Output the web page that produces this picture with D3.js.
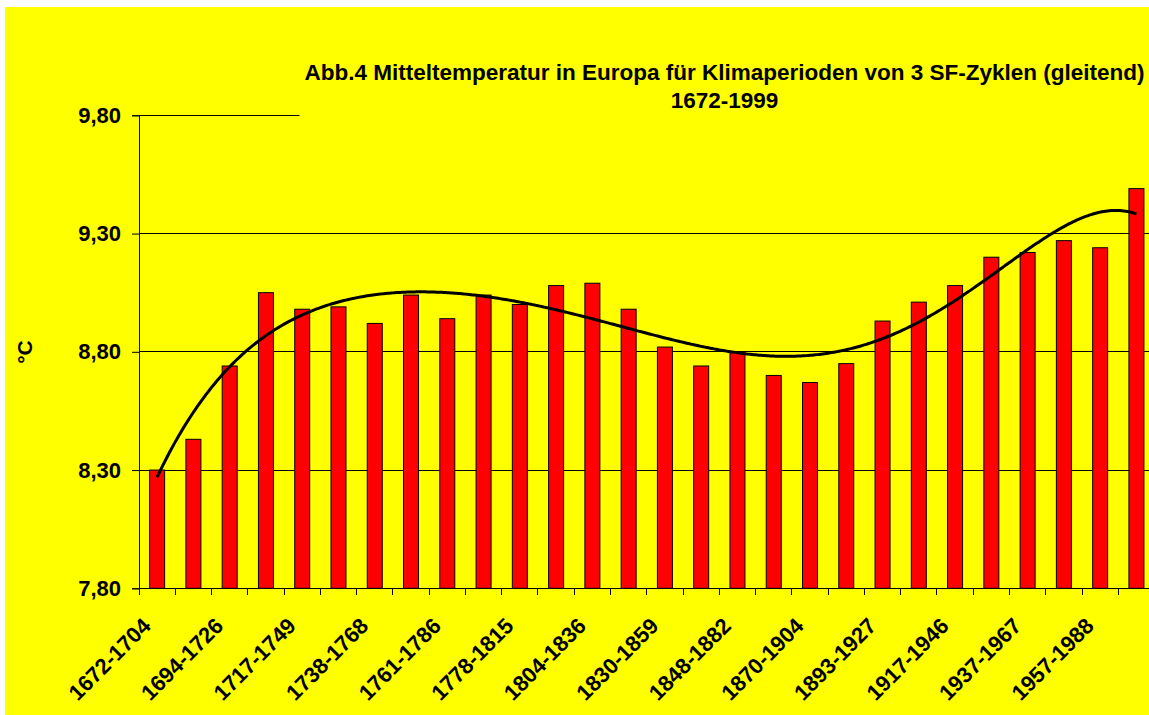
<!DOCTYPE html>
<html><head><meta charset="utf-8">
<script src="https://cdn.jsdelivr.net/npm/d3@7"></script>
<style>html,body{margin:0;padding:0;background:#fff;}svg{display:block;}</style>
</head><body>
<svg id="chart" width="1149" height="715"></svg>
<script>
const categories = ["1672-1704","1683-1715","1694-1726","1705-1738","1717-1749","1728-1760","1738-1768","1750-1777","1761-1786","1769-1798","1778-1815","1790-1826","1804-1836","1816-1848","1830-1859","1838-1870","1848-1882","1860-1893","1870-1904","1882-1916","1893-1927","1905-1937","1917-1946","1927-1957","1937-1967","1947-1978","1957-1988","1967-1999"];
const temps = [8.30,8.43,8.74,9.05,8.98,8.99,8.92,9.04,8.94,9.04,9.00,9.08,9.09,8.98,8.82,8.74,8.80,8.70,8.67,8.75,8.93,9.01,9.08,9.20,9.22,9.27,9.24,9.49];
const yTicks = [7.80,8.30,8.80,9.30,9.80];
const titleLines = ["Abb.4 Mitteltemperatur in Europa für Klimaperioden von 3 SF-Zyklen (gleitend)","1672-1999"];
const yLabel = "°C";
const trendDegree = 6;

(function(){
const svg = d3.select("#chart");
const W = 1149, H = 715;
const pLeft = 139, step = 36.27, pRight = pLeft + step*categories.length;
const pTop = 115.3, pBottom = 588.3;
const fmt = v => d3.format(".2f")(v).replace(".", ",");

svg.append("rect").attr("x",5).attr("y",7).attr("width",W).attr("height",H).attr("fill","#ffff00");

const x = d3.scaleBand().domain(categories).range([pLeft,pRight]).paddingInner(1-15/step).paddingOuter((1-15/step)/2);
const y = d3.scaleLinear().domain([7.8,9.8]).range([pBottom,pTop]);

const grid = svg.append("g");
grid.selectAll("line").data(yTicks.filter(v=>v>7.8)).join("line")
  .attr("x1",pLeft).attr("x2",pRight).attr("y1",d=>y(d)).attr("y2",d=>y(d))
  .attr("stroke","#000").attr("stroke-width",1).attr("shape-rendering","crispEdges");

const yAxis = d3.axisLeft(y).tickValues(yTicks).tickFormat(fmt).tickSize(7).tickPadding(11);
const gy = svg.append("g").attr("transform",`translate(${pLeft},0)`).call(yAxis);
gy.select(".domain").attr("stroke","#000");
gy.selectAll(".tick line").attr("stroke","#000");
gy.selectAll(".tick text").attr("font-family","'Liberation Sans',Arial,sans-serif").attr("font-weight","bold").attr("font-size","22px").attr("fill","#000");

svg.append("g").selectAll("rect").data(temps).join("rect")
  .attr("x",(d,i)=>x(categories[i])).attr("width",x.bandwidth())
  .attr("y",d=>y(d)).attr("height",d=>pBottom-y(d))
  .attr("fill","#ff0000").attr("stroke","#000").attr("stroke-width",1);

svg.append("line").attr("x1",pLeft).attr("x2",pRight).attr("y1",pBottom).attr("y2",pBottom).attr("stroke","#000").attr("shape-rendering","crispEdges");
svg.append("g").selectAll("line").data(d3.range(categories.length+1)).join("line")
  .attr("x1",i=>pLeft+i*x.step()).attr("x2",i=>pLeft+i*x.step())
  .attr("y1",pBottom).attr("y2",pBottom+7).attr("stroke","#000").attr("shape-rendering","crispEdges");
svg.append("g").selectAll("text").data(categories.filter((c,i)=>i%2===0)).join("text")
  .attr("transform",c=>`translate(${x(c)+x.bandwidth()/2-5},${pBottom+39}) rotate(-45)`)
  .attr("text-anchor","end")
  .attr("font-family","'Liberation Sans',Arial,sans-serif").attr("font-weight","bold").attr("font-size","22px")
  .text(c=>c);

function polyfit(xs, ys, deg){
  const n = deg+1, A = Array.from({length:n},()=>Array(n+1).fill(0));
  xs.forEach((xv,k)=>{
    for(let r=0;r<n;r++){ for(let c=0;c<n;c++) A[r][c]+=Math.pow(xv,r+c); A[r][n]+=ys[k]*Math.pow(xv,r); }
  });
  for(let i=0;i<n;i++){
    let p=i; for(let r=i+1;r<n;r++) if(Math.abs(A[r][i])>Math.abs(A[p][i])) p=r;
    [A[i],A[p]]=[A[p],A[i]];
    for(let r=0;r<n;r++){ if(r===i) continue; const f=A[r][i]/A[i][i]; for(let c=i;c<=n;c++) A[r][c]-=f*A[i][c]; }
  }
  return A.map((row,i)=>row[n]/row[i]);
}
const N = temps.length, mid = (N-1)/2;
const ts = temps.map((d,i)=>(i-mid)/mid);
const coef = polyfit(ts,temps,trendDegree);
const pv = t => coef.reduce((s,c,k)=>s+c*Math.pow(t,k),0);
const xc = i => pLeft + (i+0.5)*x.step();
const trendPts = d3.range(0,N-1+0.001,0.05).map(i=>[xc(i), y(pv((i-mid)/mid))]);
svg.append("path").attr("d",d3.line()(trendPts)).attr("fill","none").attr("stroke","#000").attr("stroke-width",3);

const tg = svg.append("g");
tg.append("rect").attr("x",299.5).attr("y",50).attr("width",W).attr("height",66).attr("fill","#ffff00");
tg.selectAll("text").data(titleLines).join("text")
  .attr("x",724.5).attr("y",(d,i)=>80+i*28).attr("text-anchor","middle")
  .attr("font-family","'Liberation Sans',Arial,sans-serif").attr("font-weight","bold").attr("font-size","22.5px")
  .text(d=>d);

svg.append("text").attr("transform","translate(32,352) rotate(-90)").attr("text-anchor","middle")
  .attr("font-family","'Liberation Sans',Arial,sans-serif").attr("font-weight","bold").attr("font-size","21px").text(yLabel);
})();
</script>
</body></html>
